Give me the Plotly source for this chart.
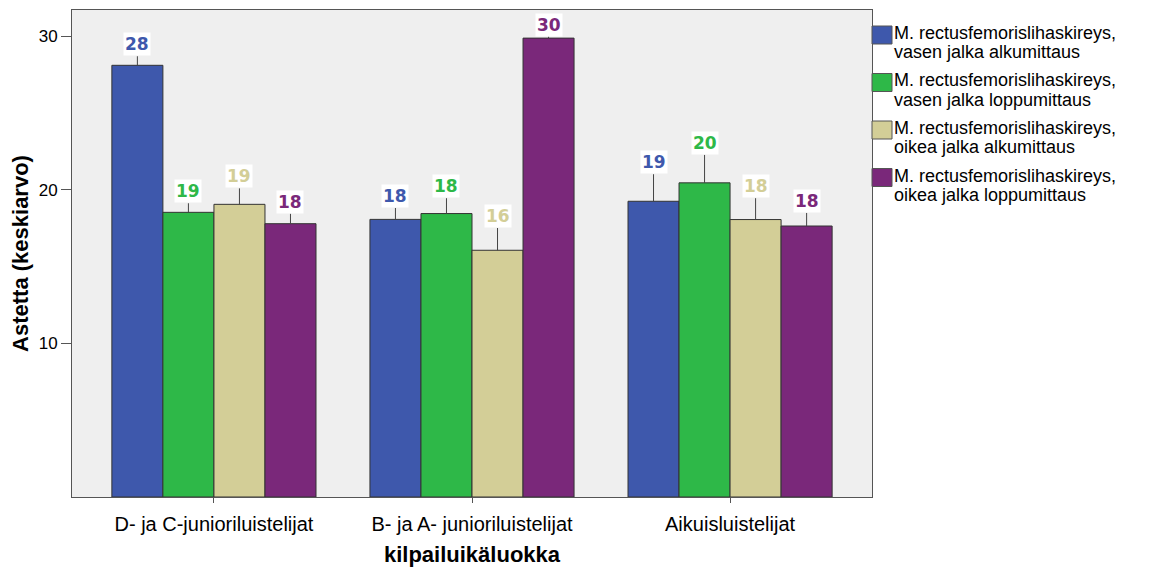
import plotly.graph_objects as go

categories = ["D- ja C-junioriluistelijat", "B- ja A- junioriluistelijat", "Aikuisluistelijat"]
series_names = [
    "M. rectusfemorislihaskireys,<br>vasen jalka alkumittaus",
    "M. rectusfemorislihaskireys,<br>vasen jalka loppumittaus",
    "M. rectusfemorislihaskireys,<br>oikea jalka alkumittaus",
    "M. rectusfemorislihaskireys,<br>oikea jalka loppumittaus",
]
vasen_alku = [28.1, 18.07, 19.25]
vasen_loppu = [18.53, 18.45, 20.45]
oikea_alku = [19.05, 16.06, 18.06]
oikea_loppu = [17.79, 29.87, 17.64]
err_vasen_alku = [0.59, 0.74, 1.76]
err_vasen_loppu = [0.59, 1.0, 1.82]
err_oikea_alku = [1.04, 1.45, 1.39]
err_oikea_loppu = [0.65, 0.1, 0.85]

values = [vasen_alku, vasen_loppu, oikea_alku, oikea_loppu]
errors = [err_vasen_alku, err_vasen_loppu, err_oikea_alku, err_oikea_loppu]
colors = ["#3E58AC", "#2EB848", "#D3CE97", "#7A287A"]

OFF = 8  # browser body margin
W, H = 1169 - OFF, 568 - OFF
L, T = 72 - OFF, 10 - OFF
R = W - (872 - OFF)
B = H - (497 - OFF)
bargap = 0.209
n = len(values)
barw = (1 - bargap) / n

fig = go.Figure()
annotations = []
shapes = []
for k, (name, vals, errs, col) in enumerate(zip(series_names, values, errors, colors)):
    fig.add_trace(go.Bar(
        x=list(range(len(categories))), y=vals, name=name,
        marker=dict(color=col, line=dict(color="#333333", width=1)),
        error_y=dict(type="data", symmetric=False, array=errs, arrayminus=[0] * len(errs),
                     color="#444444", thickness=1, width=0),
        showlegend=False,
    ))
    for i, (v, e) in enumerate(zip(vals, errs)):
        annotations.append(dict(
            x=i + (k - (n - 1) / 2) * barw, y=v + e, xref="x", yref="y",
            text=f"<b>{round(v)}</b>", showarrow=False, yanchor="bottom",
            font=dict(family="DejaVu Sans", size=17, color=col),
            bgcolor="white", borderpad=1,
        ))

# manual legend (page pixel coordinates)
pw = W - L - R
ph = H - T - B
def px2paper(x, y):
    return (x - OFF - L) / pw, (H - B - (y - OFF)) / ph

for k, (name, col) in enumerate(zip(series_names, colors)):
    top = 26 + k * 47.5
    x0, y0 = px2paper(872, top)
    x1, y1 = px2paper(892, top + 18)
    shapes.append(dict(type="rect", xref="paper", yref="paper", x0=x0, x1=x1, y0=y1, y1=y0,
                       fillcolor=col, line=dict(color="#555555", width=1)))
    lines = name.split("<br>")
    for j, line in enumerate(lines):
        tx, ty = px2paper(893, top - 4 + j * 19)
        annotations.append(dict(
            x=tx, y=ty, xref="paper", yref="paper", text=line, showarrow=False,
            xanchor="left", yanchor="top", borderpad=0,
            font=dict(family="Liberation Sans, Arial", size=18, color="black"),
        ))

fig.update_layout(
    width=W, height=H,
    margin=dict(l=L, r=R, t=T, b=B),
    paper_bgcolor="white", plot_bgcolor="#EFEFEF",
    barmode="group", bargap=bargap, bargroupgap=0,
    annotations=annotations, shapes=shapes,
    showlegend=False,
    xaxis=dict(
        range=[-0.55, 2.55], tickvals=list(range(len(categories))), ticktext=categories,
        showline=True, linecolor="#555555", linewidth=1, mirror=True,
        ticks="outside", ticklen=5, tickcolor="#555555", ticklabelstandoff=4,
        tickfont=dict(family="Liberation Sans, Arial", size=20, color="black"),
        title=dict(text="<b>kilpailuikäluokka</b>", standoff=12,
                   font=dict(family="Liberation Sans, Arial", size=22, color="black")),
        showgrid=False, zeroline=False,
    ),
    yaxis=dict(
        range=[0, 31.7], tickvals=[10, 20, 30],
        showline=True, linecolor="#555555", linewidth=1, mirror=True,
        ticks="outside", ticklen=10, tickcolor="#555555",
        tickfont=dict(family="Liberation Sans, Arial", size=17, color="black"),
        title=dict(text="<b>Astetta (keskiarvo)</b>", standoff=6,
                   font=dict(family="Liberation Sans, Arial", size=22, color="black")),
        showgrid=False, zeroline=False,
    ),
)

fig.write_html("out.html")
